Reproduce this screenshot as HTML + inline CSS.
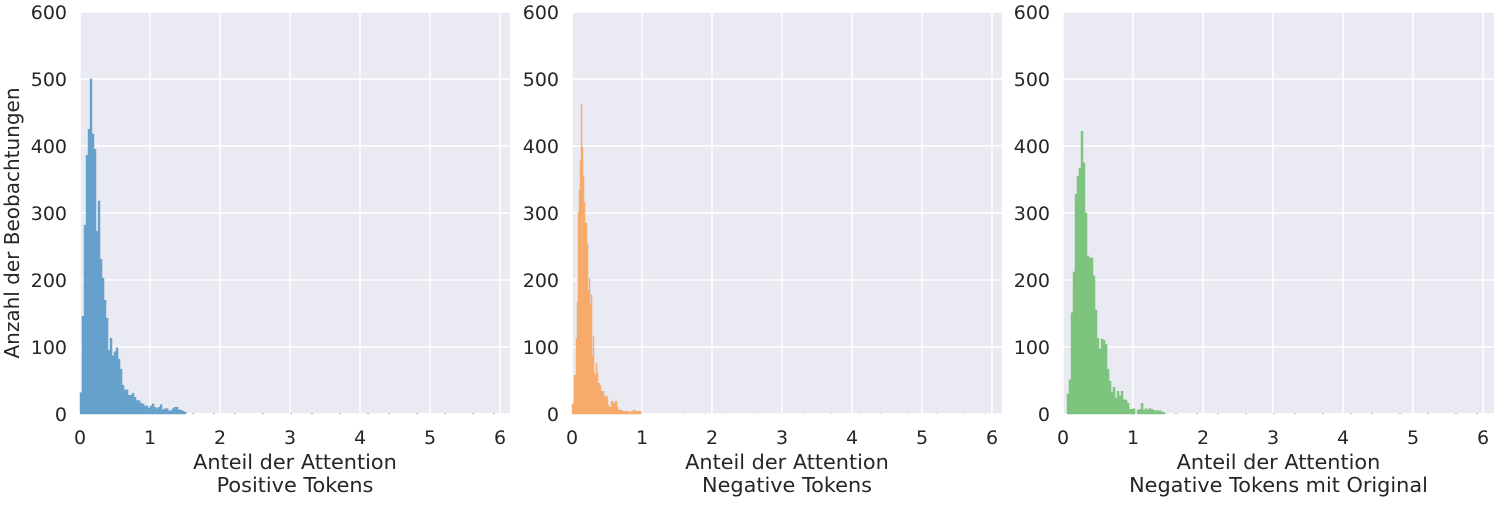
<!DOCTYPE html>
<html><head><meta charset="utf-8">
<style>
html,body{margin:0;padding:0;background:#fff;}
svg text{font-family:"DejaVu Sans","Liberation Sans",sans-serif;fill:#262626;}
</style></head>
<body>
<svg id="chart" width="1500" height="500" viewBox="0 0 1500 500" xmlns="http://www.w3.org/2000/svg"></svg>
<script>
const xTicks=[0,1,2,3,4,5,6];
const yTicks=[0,100,200,300,400,500,600];
const titles=["Positive Tokens","Negative Tokens","Negative Tokens mit Original"];
const binWidths=[0.0286,0.0143,0.0286];
const binStarts=[0,0,0.057];
const countsPositive=[32,146,282,386,425,500,418,395,273,318,231,203,170,143,95,113,87,93,99,82,67,43,36,36,28,28,31,25,20,20,16,15,12,12,9,12,15,10,8,10,14,6,8,8,5,5,8,10,10,6,6,4,3];
const countsNegative=[15,15,58,58,112,167,301,334,378,462,398,355,316,285,285,254,184,203,164,178,87,116,61,57,76,61,46,46,42,34,34,34,25,27,27,24,13,10,10,19,19,16,16,19,19,10,6,6,6,6,4,4,4,4,4,4,3,3,3,4,4,6,6,4,4,4,4,4,4];
const countsNegOrig=[30,51,151,212,328,355,367,422,375,300,236,233,233,206,155,113,97,112,110,104,67,49,33,40,24,34,27,34,21,21,16,7,7,8,0,6,7,16,6,8,6,8,7,5,5,5,5,3,2];
const tailX=[1.6,1.9,2.2,2.6,3.0,3.3,3.7,4.1,4.4,4.8,5.2,5.6,5.9];
const tailPositive=[1,1,1,1,1,1,1,1,1,1,1,1,1];
const tailNegative=[1,1,1,1,1,1,1,1,1,1,1,1,1];
const tailNegOrig=[1,1,1,1,1,1,1,1,1,1,1,1,1];

const panels=[{x0:80,x1:510,fill:"#6aa5cf",stroke:"#5a97c4",counts:countsPositive,tail:tailPositive},
 {x0:572,x1:1002,fill:"#f9b277",stroke:"#f5a361",counts:countsNegative,tail:tailNegative},
 {x0:1063,x1:1494,fill:"#82c783",stroke:"#70bb71",counts:countsNegOrig,tail:tailNegOrig}];
const yTop=12,yBot=414;
const NS="http://www.w3.org/2000/svg";
const svg=document.getElementById('chart');
function mk(t,a,p){const e=document.createElementNS(NS,t);for(const k in a)e.setAttribute(k,a[k]);(p||svg).appendChild(e);return e;}
function yScale(v){return yBot-(v/600)*(yBot-yTop);}
panels.forEach((p,i)=>{
  const xs=v=>p.x0+v*70;
  const g=mk('g',{});
  
  
  const bg=mk('rect',{x:p.x0,y:yTop,width:p.x1-p.x0,height:yBot-yTop,fill:'#eaeaf2'},g);
  
  
  xTicks.forEach(t=>{
    const l=mk('line',{x1:xs(t),x2:xs(t),y1:yTop,y2:yBot,stroke:'#fff','stroke-width':1.5},g);
    
    
    const tx=mk('text',{x:xs(t),y:444,'text-anchor':'middle','font-size':19},g);
    tx.textContent=t;
    
    
  });
  yTicks.forEach(t=>{
    const l=mk('line',{x1:p.x0,x2:p.x1,y1:yScale(t),y2:yScale(t),stroke:'#fff','stroke-width':1.5},g);
    
    
    const tx=mk('text',{x:p.x0-13,y:yScale(t)+7,'text-anchor':'end','font-size':19},g);
    tx.textContent=t;
    
    
  });
  const w=binWidths[i];
  p.counts.forEach((c,j)=>{
    const a=binStarts[i]+j*w;
    const r=mk('rect',{x:xs(a),y:yScale(c),width:Math.max(w*70,0.5),height:yBot-yScale(c),fill:p.fill,stroke:p.stroke,'stroke-width':0.4},g);
    
    
  });
  tailX.forEach((a,j)=>{
    const c=p.tail[j];
    const r=mk('rect',{x:xs(a),y:yScale(c),width:w*70,height:yBot-yScale(c),fill:p.fill},g);
    
    
  });
  const mid=(p.x0+p.x1)/2;
  const t1=mk('text',{x:mid,y:469,'text-anchor':'middle','font-size':20.8},g);
  t1.textContent='Anteil der Attention';
  
  
  const t2=mk('text',{x:mid,y:492,'text-anchor':'middle','font-size':20.8},g);
  t2.textContent=titles[i];
  
  
});
const yt=mk('text',{x:0,y:0,'text-anchor':'middle','font-size':20,transform:'translate(19,223) rotate(-90)'});
yt.textContent='Anzahl der Beobachtungen';


</script>
</body></html>
